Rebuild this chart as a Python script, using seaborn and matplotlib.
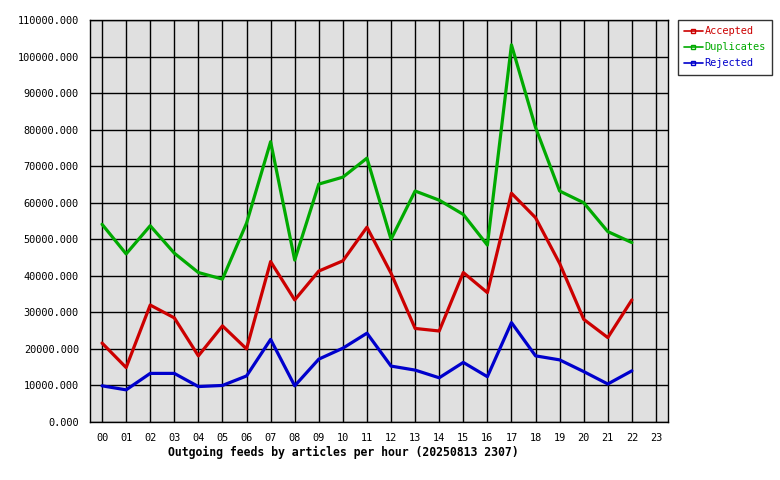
import matplotlib
matplotlib.use("Agg")
import matplotlib.pyplot as plt
from matplotlib.lines import Line2D
from matplotlib.ticker import MultipleLocator, FuncFormatter
import seaborn as sns
import pandas as pd

hours = ["00", "01", "02", "03", "04", "05", "06", "07", "08", "09", "10", "11",
         "12", "13", "14", "15", "16", "17", "18", "19", "20", "21", "22", "23"]
accepted = [21600, 14900, 32000, 28500, 18100, 26300, 20000, 43900, 33400, 41300, 44100, 53300,
            40700, 25600, 24900, 40900, 35400, 62600, 55900, 43400, 28100, 23100, 33400]
duplicates = [54100, 46000, 53700, 46200, 40900, 39100, 54400, 76700, 44300, 65100, 67000, 72200,
              50000, 63200, 60700, 56800, 48400, 103200, 80600, 63200, 60000, 52100, 49100]
rejected = [9900, 8800, 13300, 13300, 9700, 10000, 12600, 22600, 9900, 17200, 20200, 24300,
            15300, 14200, 12100, 16300, 12400, 27200, 18100, 17000, 13800, 10400, 14000]
series_names = ["Accepted", "Duplicates", "Rejected"]
colors = ["#cc0000", "#00aa00", "#0000cc"]
title = "Outgoing feeds by articles per hour (20250813 2307)"

rows = []
for name, vals in zip(series_names, [accepted, duplicates, rejected]):
    for i, v in enumerate(vals):
        rows.append({"hour": i, "value": v, "series": name})
df = pd.DataFrame(rows)

sns.set_style("white")
plt.rcParams["font.family"] = ["DejaVu Sans Mono"]
plt.rcParams["text.color"] = "black"

fig = plt.figure(figsize=(7.8, 4.8), dpi=100)
ax = fig.add_axes([90 / 780, 58 / 480, 578 / 780, 402 / 480])
ax.set_facecolor("#e0e0e0")

sns.lineplot(data=df, x="hour", y="value", hue="series", hue_order=series_names,
             palette=colors, linewidth=2.3, ax=ax, legend=False)

ax.set_xlim(-0.5, 23.5)
ax.set_ylim(0, 110000)
ax.set_xticks(range(24))
ax.set_xticklabels(hours)
ax.yaxis.set_major_locator(MultipleLocator(10000))
ax.yaxis.set_major_formatter(FuncFormatter(lambda v, p: f"{v:.3f}"))
ax.grid(True, color="black", linewidth=1.0)
ax.set_axisbelow(True)
for s in ax.spines.values():
    s.set_color("black")
    s.set_linewidth(1.0)
ax.tick_params(axis="both", which="major", direction="out", length=5, width=1,
               color="black", labelsize=7.4, labelcolor="black", pad=3)
ax.set_xlabel("")
ax.set_ylabel("")

fig.text(343 / 780, 1 - 452 / 480, title, ha="center", va="center", color="black",
         fontsize=8.3, fontweight="bold", family="DejaVu Sans Mono")

handles = [Line2D([0], [0], color=c, lw=1.2, marker="s", ms=3, mfc="none", mec=c)
           for c in colors]
leg = fig.legend(handles, series_names, loc="upper left",
                 bbox_to_anchor=(678 / 780, 1 - 20 / 480), frameon=True,
                 fancybox=False, edgecolor="black", fontsize=7.4,
                 handlelength=1.8, handletextpad=0.2, borderpad=0.6,
                 labelspacing=0.6, borderaxespad=0)
leg.get_frame().set_linewidth(1.0)
for t, c in zip(leg.get_texts(), colors):
    t.set_color(c)

fig.savefig("out.png", dpi=100, facecolor="white")
